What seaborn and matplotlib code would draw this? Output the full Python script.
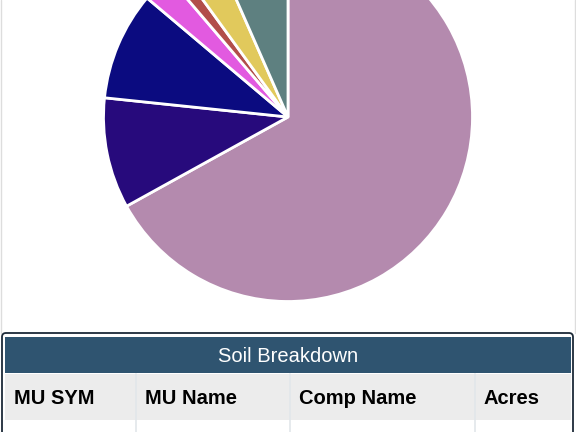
import matplotlib
matplotlib.use("Agg")
import matplotlib.pyplot as plt
import seaborn as sns
from matplotlib.patches import Rectangle, FancyBboxPatch

# soil share of each map unit (percent), clockwise from 12 o'clock
soil_units = ["Unit 1", "Unit 2", "Unit 3", "Unit 4", "Unit 5", "Unit 6", "Unit 7"]
soil_share = [67.0, 9.7, 9.5, 2.6, 1.25, 3.4, 6.6]
soil_colors = ["#b48aae", "#270a7c", "#0b0b80", "#e25ae0", "#b24e4a", "#e1c95c", "#5e8080"]

table_title = "Soil Breakdown"
table_columns = ["MU SYM", "MU Name", "Comp Name", "Acres"]

W, H = 576, 432

sns.set_theme(style="white")
plt.rcParams['font.family'] = ['Liberation Sans', 'DejaVu Sans']

fig = plt.figure(figsize=(5.76, 4.32), dpi=100)
ax = fig.add_axes([0, 0, 1, 1])

def yy(y):
    # screen y (top down) -> data y
    return H - y

# page frame lines
ax.plot([0.8, 0.8], [yy(0), yy(333)], color="#dddddd", lw=1)
ax.plot([575.2, 575.2], [yy(0), yy(333)], color="#dddddd", lw=1)

# pie
ax.pie(soil_share, colors=soil_colors, startangle=90, counterclock=False,
       center=(288, yy(117)), radius=184.5, frame=True,
       wedgeprops=dict(edgecolor="white", linewidth=2))

# table box
ax.add_patch(FancyBboxPatch((2, yy(440)), 571, 440 - 333,
                            boxstyle="round,pad=0,rounding_size=4",
                            facecolor="white", edgecolor="#1c2a38", lw=1.3, zorder=3))
ax.add_patch(Rectangle((5, yy(373)), 566, 373 - 337, facecolor="#2f5470",
                       edgecolor="none", zorder=4))
ax.text(288, yy(356), table_title, color="white", fontsize=14.5,
        ha="center", va="center", zorder=5)

ax.add_patch(Rectangle((5, yy(420)), 566, 420 - 374, facecolor="#ececec",
                       edgecolor="none", zorder=4))
col_left = [5, 136, 290, 475]
for i, name in enumerate(table_columns):
    ax.text(col_left[i] + 9, yy(398), name, fontsize=14.5, fontweight="bold",
            color="black", ha="left", va="center", zorder=5)
for x in col_left[1:]:
    ax.plot([x, x], [yy(374), yy(432)], color="#e2e6ea", lw=1.2, zorder=5)

ax.set_xlim(0, W)
ax.set_ylim(0, H)
ax.set_aspect("auto")
ax.axis("off")

fig.savefig("out.png", dpi=100)
